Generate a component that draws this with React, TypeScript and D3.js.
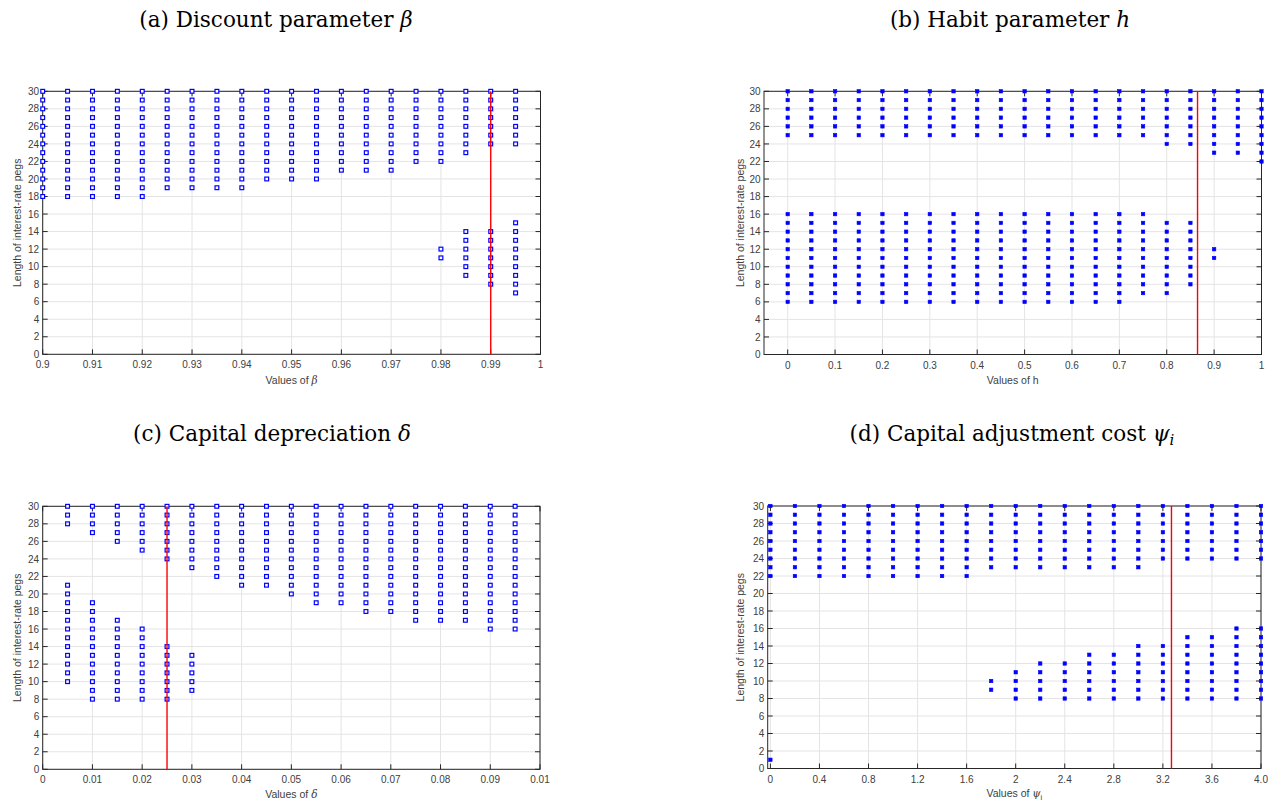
import React from "react";
import * as d3 from "d3";

// ---------- shared ----------
const yTickValues = [0, 2, 4, 6, 8, 10, 12, 14, 16, 18, 20, 22, 24, 26, 28, 30];
const yLabelText = "Length of interest-rate pegs";

// ---------- (a) discount parameter beta ----------
const betaValues = [0.9, 0.905, 0.91, 0.915, 0.92, 0.925, 0.93, 0.935, 0.94, 0.945, 0.95, 0.955, 0.96, 0.965, 0.97, 0.975, 0.98, 0.985, 0.99, 0.995];
const betaUpperMin = [18, 18, 18, 18, 18, 19, 19, 19, 19, 20, 20, 20, 21, 21, 21, 22, 22, 23, 24, 24];
const betaUpperMax = [30, 30, 30, 30, 30, 30, 30, 30, 30, 30, 30, 30, 30, 30, 30, 30, 30, 30, 30, 30];
const betaLowerMin: (number | null)[] = [null, null, null, null, null, null, null, null, null, null, null, null, null, null, null, null, 11, 9, 8, 7];
const betaLowerMax: (number | null)[] = [null, null, null, null, null, null, null, null, null, null, null, null, null, null, null, null, 12, 14, 14, 15];
const betaTickValues = [0.9, 0.91, 0.92, 0.93, 0.94, 0.95, 0.96, 0.97, 0.98, 0.99, 1];
const betaTickLabels = ["0.9", "0.91", "0.92", "0.93", "0.94", "0.95", "0.96", "0.97", "0.98", "0.99", "1"];
const betaCalibrated = 0.99;

// ---------- (b) habit parameter h ----------
const hValues = [0, 0.05, 0.1, 0.15, 0.2, 0.25, 0.3, 0.35, 0.4, 0.45, 0.5, 0.55, 0.6, 0.65, 0.7, 0.75, 0.8, 0.85, 0.9, 0.95, 1.0];
const hUpperMin = [25, 25, 25, 25, 25, 25, 25, 25, 25, 25, 25, 25, 25, 25, 25, 25, 24, 24, 23, 23, 22];
const hUpperMax = [30, 30, 30, 30, 30, 30, 30, 30, 30, 30, 30, 30, 30, 30, 30, 30, 30, 30, 30, 30, 30];
const hLowerMin: (number | null)[] = [6, 6, 6, 6, 6, 6, 6, 6, 6, 6, 6, 6, 6, 6, 6, 7, 7, 8, 11, null, null];
const hLowerMax: (number | null)[] = [16, 16, 16, 16, 16, 16, 16, 16, 16, 16, 16, 16, 16, 16, 16, 16, 15, 15, 12, null, null];
const hTickValues = [0, 0.1, 0.2, 0.3, 0.4, 0.5, 0.6, 0.7, 0.8, 0.9, 1];
const hTickLabels = ["0", "0.1", "0.2", "0.3", "0.4", "0.5", "0.6", "0.7", "0.8", "0.9", "1"];
const hCalibrated = 0.865;

// ---------- (c) capital depreciation delta ----------
const deltaValues = [0.005, 0.01, 0.015, 0.02, 0.025, 0.03, 0.035, 0.04, 0.045, 0.05, 0.055, 0.06, 0.065, 0.07, 0.075, 0.08, 0.085, 0.09, 0.095];
const deltaUpperMin = [28, 27, 26, 25, 24, 23, 22, 21, 21, 20, 19, 19, 18, 18, 17, 17, 17, 16, 16];
const deltaUpperMax = [30, 30, 30, 30, 30, 30, 30, 30, 30, 30, 30, 30, 30, 30, 30, 30, 30, 30, 30];
const deltaLowerMin: (number | null)[] = [10, 8, 8, 8, 8, 9, null, null, null, null, null, null, null, null, null, null, null, null, null];
const deltaLowerMax: (number | null)[] = [21, 19, 17, 16, 14, 13, null, null, null, null, null, null, null, null, null, null, null, null, null];
const deltaTickValues = [0, 0.01, 0.02, 0.03, 0.04, 0.05, 0.06, 0.07, 0.08, 0.09, 0.1];
const deltaTickLabels = ["0", "0.01", "0.02", "0.03", "0.04", "0.05", "0.06", "0.07", "0.08", "0.09", "0.01"];
const deltaCalibrated = 0.025;

// ---------- (d) capital adjustment cost psi_i ----------
const psiValues = [0, 0.2, 0.4, 0.6, 0.8, 1.0, 1.2, 1.4, 1.6, 1.8, 2.0, 2.2, 2.4, 2.6, 2.8, 3.0, 3.2, 3.4, 3.6, 3.8, 4.0];
const psiUpperMin = [22, 22, 22, 22, 22, 22, 22, 22, 22, 23, 23, 23, 23, 23, 23, 23, 24, 24, 24, 24, 24];
const psiUpperMax = [30, 30, 30, 30, 30, 30, 30, 30, 30, 30, 30, 30, 30, 30, 30, 30, 30, 30, 30, 30, 30];
const psiLowerMin: (number | null)[] = [1, null, null, null, null, null, null, null, null, 9, 8, 8, 8, 8, 8, 8, 8, 8, 8, 8, 8];
const psiLowerMax: (number | null)[] = [1, null, null, null, null, null, null, null, null, 10, 11, 12, 12, 13, 13, 14, 14, 15, 15, 16, 16];
const psiTickValues = [0, 0.4, 0.8, 1.2, 1.6, 2, 2.4, 2.8, 3.2, 3.6, 4.0];
const psiTickLabels = ["0", "0.4", "0.8", "1.2", "1.6", "2", "2.4", "2.8", "3.2", "3.6", "4.0"];
const psiCalibrated = 3.27;

// ---------- styling / layout ----------
const AXIS = "#262626";
const GRID = "#e4e4e4";
const BLUE = "#0000ff";
const RED = "#ff0000";
const SANS = "'Liberation Sans', Arial, Helvetica, sans-serif";
const SERIF = "'DejaVu Serif', 'Liberation Serif', serif";
const TITLE_SIZE = 21.5;

type Frame = { left: number; right: number; top: number; bottom: number };

type PanelProps = {
  frame: Frame;
  xDomain: [number, number];
  tickValues: number[];
  tickLabels: string[];
  values: number[];
  upperMin: number[];
  upperMax: number[];
  lowerMin: (number | null)[];
  lowerMax: (number | null)[];
  calibrated: number;
  hollow: boolean;
  title: React.ReactNode;
  titleX: number;
  titleY: number;
  xLabel: React.ReactNode;
  xLabelY: number;
  yLabelX: number;
};

function Panel(p: PanelProps) {
  const { frame } = p;
  const x = d3.scaleLinear().domain(p.xDomain).range([frame.left, frame.right]);
  const y = d3.scaleLinear().domain([0, 30]).range([frame.bottom, frame.top]);

  const pts: [number, number][] = [];
  p.values.forEach((v, i) => {
    for (let k = p.upperMin[i]; k <= p.upperMax[i]; k++) pts.push([v, k]);
    const lo = p.lowerMin[i];
    const hi = p.lowerMax[i];
    if (lo != null && hi != null) for (let k = lo; k <= hi; k++) pts.push([v, k]);
  });

  const tickLen = 5;
  const size = p.hollow ? 3.8 : 3.4;

  return (
    <g>
      <rect x={frame.left} y={frame.top} width={frame.right - frame.left} height={frame.bottom - frame.top} fill="#ffffff" />
      {/* grid */}
      {p.tickValues.map((t, i) => (
        <line key={"gx" + i} x1={x(t)} x2={x(t)} y1={frame.top} y2={frame.bottom} stroke={GRID} strokeWidth={1} />
      ))}
      {yTickValues.map((t, i) => (
        <line key={"gy" + i} x1={frame.left} x2={frame.right} y1={y(t)} y2={y(t)} stroke={GRID} strokeWidth={1} />
      ))}
      {/* box */}
      <rect x={frame.left} y={frame.top} width={frame.right - frame.left} height={frame.bottom - frame.top} fill="none" stroke={AXIS} strokeWidth={1} />
      {/* ticks */}
      {p.tickValues.map((t, i) => (
        <g key={"tx" + i}>
          <line x1={x(t)} x2={x(t)} y1={frame.bottom} y2={frame.bottom - tickLen} stroke={AXIS} strokeWidth={1} />
          <line x1={x(t)} x2={x(t)} y1={frame.top} y2={frame.top + tickLen} stroke={AXIS} strokeWidth={1} />
          <text x={x(t)} y={frame.bottom + 14} textAnchor="middle" fontFamily={SANS} fontSize={10} fill="#404040">
            {p.tickLabels[i]}
          </text>
        </g>
      ))}
      {yTickValues.map((t, i) => (
        <g key={"ty" + i}>
          <line x1={frame.left} x2={frame.left + tickLen} y1={y(t)} y2={y(t)} stroke={AXIS} strokeWidth={1} />
          <line x1={frame.right} x2={frame.right - tickLen} y1={y(t)} y2={y(t)} stroke={AXIS} strokeWidth={1} />
          <text x={frame.left - 3.5} y={y(t) + 3.6} textAnchor="end" fontFamily={SANS} fontSize={10} fill="#404040">
            {t}
          </text>
        </g>
      ))}
      {/* markers */}
      {pts.map(([v, k], i) => (
        <rect
          key={"m" + i}
          x={x(v) - size / 2}
          y={y(k) - size / 2}
          width={size}
          height={size}
          fill={p.hollow ? "#ffffff" : BLUE}
          stroke={BLUE}
          strokeWidth={p.hollow ? 1.2 : 0.6}
        />
      ))}
      {/* calibrated value */}
      <line x1={x(p.calibrated)} x2={x(p.calibrated)} y1={y(0)} y2={y(30)} stroke={RED} strokeWidth={1.4} />
      {/* labels */}
      <text x={(frame.left + frame.right) / 2} y={p.xLabelY} textAnchor="middle" fontFamily={SANS} fontSize={10.5} fill="#404040">
        {p.xLabel}
      </text>
      <text
        transform={`translate(${p.yLabelX},${(frame.top + frame.bottom) / 2}) rotate(-90)`}
        textAnchor="middle"
        fontFamily={SANS}
        fontSize={10.5}
        fill="#404040"
      >
        {yLabelText}
      </text>
      <text x={p.titleX} y={p.titleY} textAnchor="middle" fontFamily={SERIF} fontSize={TITLE_SIZE} fill="#000">
        {p.title}
      </text>
    </g>
  );
}

export default function App() {
  return (
    <svg
      width={1269}
      height={801}
      style={{ position: "absolute", left: 0, top: 0, background: "#fff" }}
      xmlns="http://www.w3.org/2000/svg"
    >
      <rect x={0} y={0} width={1269} height={801} fill="#fff" />
      <Panel
        frame={{ left: 42.7, right: 540.5, top: 91.3, bottom: 354.3 }}
        xDomain={[0.9, 1]}
        tickValues={betaTickValues}
        tickLabels={betaTickLabels}
        values={betaValues}
        upperMin={betaUpperMin}
        upperMax={betaUpperMax}
        lowerMin={betaLowerMin}
        lowerMax={betaLowerMax}
        calibrated={betaCalibrated}
        hollow={true}
        title={<>(a) Discount parameter <tspan fontStyle="italic">β</tspan></>}
        titleX={276}
        titleY={27}
        xLabel={<>Values of <tspan fontStyle="italic" fontFamily={SERIF}>β</tspan></>}
        xLabelY={384}
        yLabelX={21}
      />
      <Panel
        frame={{ left: 764, right: 1261.5, top: 91.3, bottom: 354.5 }}
        xDomain={[-0.05, 1.0]}
        tickValues={hTickValues}
        tickLabels={hTickLabels}
        values={hValues}
        upperMin={hUpperMin}
        upperMax={hUpperMax}
        lowerMin={hLowerMin}
        lowerMax={hLowerMax}
        calibrated={hCalibrated}
        hollow={false}
        title={<>(b) Habit parameter <tspan fontStyle="italic">h</tspan></>}
        titleX={1010}
        titleY={27}
        xLabel={<>Values of h</>}
        xLabelY={384}
        yLabelX={744}
      />
      <Panel
        frame={{ left: 42.7, right: 540, top: 506.3, bottom: 769.3 }}
        xDomain={[0, 0.1]}
        tickValues={deltaTickValues}
        tickLabels={deltaTickLabels}
        values={deltaValues}
        upperMin={deltaUpperMin}
        upperMax={deltaUpperMax}
        lowerMin={deltaLowerMin}
        lowerMax={deltaLowerMax}
        calibrated={deltaCalibrated}
        hollow={true}
        title={<>(c) Capital depreciation <tspan fontStyle="italic">δ</tspan></>}
        titleX={272}
        titleY={441}
        xLabel={<>Values of <tspan fontStyle="italic" fontFamily={SERIF}>δ</tspan></>}
        xLabelY={798}
        yLabelX={21}
      />
      <Panel
        frame={{ left: 767.7, right: 1261, top: 506, bottom: 768.5 }}
        xDomain={[-0.022, 4.0]}
        tickValues={psiTickValues}
        tickLabels={psiTickLabels}
        values={psiValues}
        upperMin={psiUpperMin}
        upperMax={psiUpperMax}
        lowerMin={psiLowerMin}
        lowerMax={psiLowerMax}
        calibrated={psiCalibrated}
        hollow={false}
        title={<>(d) Capital adjustment cost <tspan fontStyle="italic">ψ</tspan><tspan fontStyle="italic" fontSize={15} dy={4}>i</tspan></>}
        titleX={1012}
        titleY={441}
        xLabel={<>Values of <tspan fontStyle="italic" fontFamily={SERIF}>ψ</tspan><tspan fontSize={7.5} dy={3}>i</tspan></>}
        xLabelY={797}
        yLabelX={744}
      />
    </svg>
  );
}
